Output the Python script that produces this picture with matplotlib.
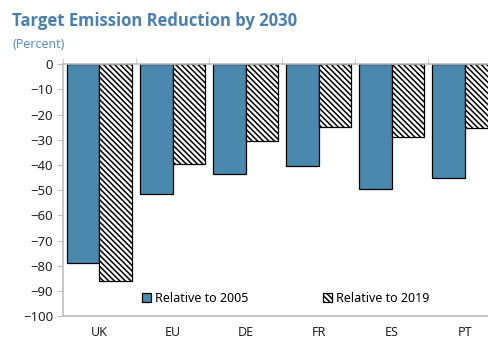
import numpy as np
import matplotlib.pyplot as plt

plt.rcParams['font.family'] = ['Noto Sans', 'DejaVu Sans']
plt.rcParams['hatch.linewidth'] = 1.1

# data
countries = ['UK', 'EU', 'DE', 'FR', 'ES', 'PT']
rel_2005 = [-79, -51.5, -43.5, -40.5, -49.5, -45]
rel_2019 = [-86, -39.5, -30.5, -25, -29, -25.5]

blue = '#4A88AD'
grey = '#BFBFBF'

fig = plt.figure(figsize=(4.88, 3.41), dpi=100)
ax = fig.add_axes([0.129, 0.073, 0.898, 0.739])

x = np.arange(len(countries))
w = 0.45
ax.bar(x - w/2, rel_2005, w, color=blue, edgecolor='black', linewidth=0.9,
       label='Relative to 2005')
ax.bar(x + w/2, rel_2019, w, color='white', edgecolor='black', linewidth=0.9,
       hatch='\\\\\\\\\\\\', label='Relative to 2019')

ax.set_xlim(-0.5, len(countries) - 0.5)
ax.set_ylim(-100, 0)
ax.set_yticks(np.arange(-100, 1, 10))
ax.set_xticks(x)
ax.set_xticklabels(countries)
ax.set_xticks(np.arange(-0.5, len(countries), 1), minor=True)

ax.tick_params(axis='x', which='major', length=0, pad=7, labelsize=9, colors='#222222')
ax.tick_params(axis='x', which='minor', top=True, bottom=False, direction='out',
               length=4, color=grey)
ax.tick_params(axis='y', length=4, color=grey, labelsize=9.5, labelcolor='#222222', pad=3)

for side in ['left', 'top', 'bottom']:
    ax.spines[side].set_color(grey)
    ax.spines[side].set_linewidth(1.2)
ax.spines['right'].set_visible(False)

ax.legend(loc='lower left', bbox_to_anchor=(0.155, 0.0), ncol=2, frameon=False,
          fontsize=9, handlelength=0.7, handleheight=0.7, handletextpad=0.3,
          columnspacing=6.0)

fig.text(0.025, 0.925, 'Target Emission Reduction by 2030', fontsize=12,
         fontweight='bold', color='#4A7FB0', family=['Open Sans', 'DejaVu Sans'])
fig.text(0.025, 0.86, '(Percent)', fontsize=9, color='#5B8FC2')

fig.savefig('out.png', dpi=100)
